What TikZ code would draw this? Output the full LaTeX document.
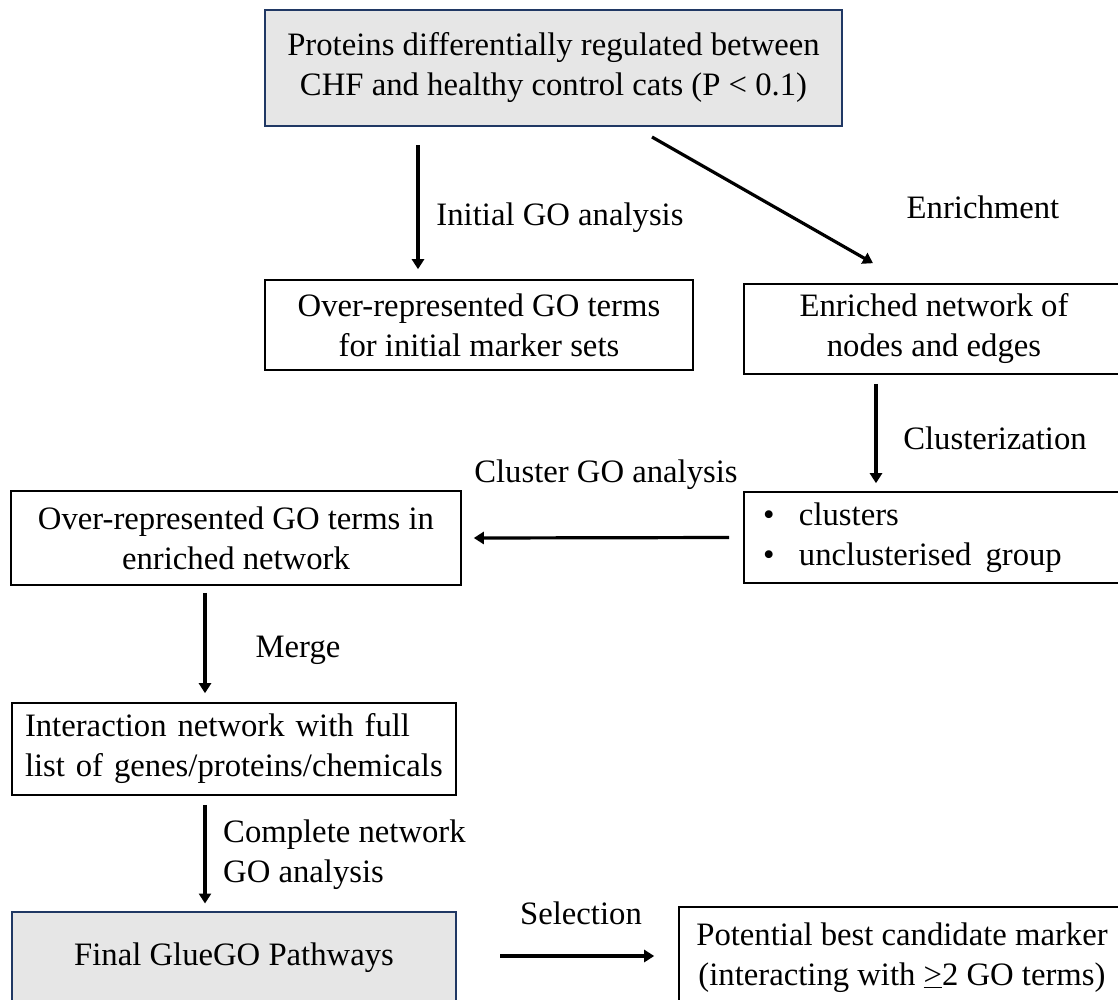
\documentclass[tikz,border=0pt]{standalone}
\usepackage{fontspec}
\setmainfont{Liberation Serif}
\usetikzlibrary{arrows.meta}
\definecolor{boxgray}{HTML}{E6E6E6}
\definecolor{navy}{HTML}{203864}
\begin{document}
\begin{tikzpicture}[x=1pt,y=-1pt,
  every node/.style={font=\fontsize{32.7}{40}\selectfont},
  box/.style={draw=black,line width=1.6pt,rectangle,inner sep=0pt,align=center},
  keybox/.style={box,draw=navy,line width=2pt,fill=boxgray},
  lbl/.style={inner sep=0pt},
  arr/.style={line width=3.2pt,-{Triangle[length=10pt,width=12pt]}}]
\clip (0,0) rectangle (1118,999);
\node[keybox,minimum width=577pt,minimum height=116pt] (top) at (553.5,68)
  {Proteins differentially regulated between\\CHF and healthy control cats (P < 0.1)};
\node[box,minimum width=428pt,minimum height=90pt] (init) at (479,325)
  {Over-represented GO terms\\for initial marker sets};
\node[box,minimum width=380pt,minimum height=90pt] (enr) at (934,329)
  {Enriched network of\\nodes and edges};
\node[box,minimum height=91pt,text width=342pt,inner xsep=19pt,align=left] (clus) at (934,537.5)
  {\makebox[36pt][l]{\textbullet}clusters\\\makebox[36pt][l]{\textbullet}unclusterised\hspace{14pt}group};
\node[box,minimum width=450pt,minimum height=94pt] (ovr) at (236,538)
  {Over-represented GO terms in\\enriched network};
\node[box,minimum height=92pt,text width=418pt,inner xsep=13pt,align=left] (inter) at (234,749)
  {Interaction network with full\\list of genes/proteins/chemicals};
\node[keybox,minimum width=444pt,minimum height=93pt] (final) at (234,958)
  {Final GlueGO Pathways};
\node[box,minimum width=446pt,minimum height=102pt] (pot) at (902,958)
  {Potential best candidate marker\\(interacting with \underline{>}2 GO terms)};

\draw[arr] ([xshift=-135.5pt,yshift=-18pt]top.south) -- ([xshift=-61pt,yshift=10pt]init.north);
\draw[arr] ([xshift=98.5pt,yshift=-10pt]top.south) -- ([xshift=-61pt,yshift=20pt]enr.north);
\draw[arr] ([xshift=-58pt,yshift=-9pt]enr.south) -- ([xshift=-58pt,yshift=8pt]clus.north);
\draw[arr] ([xshift=-14pt]clus.west) -- ([xshift=12pt]ovr.east);
\draw[arr] ([xshift=-31pt,yshift=-7pt]ovr.south) -- ([xshift=-29pt,yshift=9pt]inter.north);
\draw[arr] ([xshift=-29pt,yshift=-9pt]inter.south) -- ([xshift=-29pt,yshift=7pt]final.north);
\draw[arr] ([xshift=43pt,yshift=2pt]final.east) -- ([xshift=-24pt,yshift=2pt]pot.west);

\node[lbl] (l1) at (560,218) {Initial GO analysis};
\node[lbl] (l2) at (983,207) {Enrichment};
\node[lbl] (l3) at (995,438) {Clusterization};
\node[lbl] (l4) at (606,475) {Cluster GO analysis};
\node[lbl] (l5) at (298,650) {Merge};
\node[lbl,anchor=west,align=left] (l6) at (223,855) {Complete network\\GO analysis};
\node[lbl] (l7) at (581,913) {Selection};
\end{tikzpicture}
\end{document}
